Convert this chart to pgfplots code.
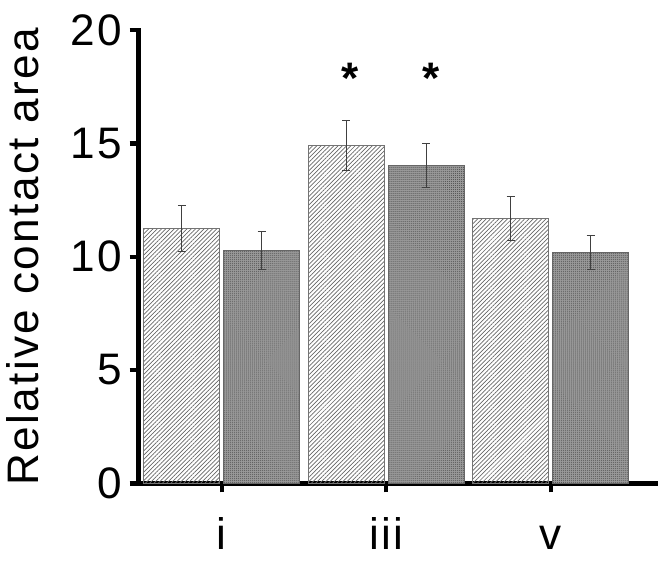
\documentclass[border=0pt]{standalone}
\usepackage{pgfplots}
\pgfplotsset{compat=1.18}
\usepackage{fontspec}
\setmainfont{Liberation Sans}[LetterSpace=5.5]
\usetikzlibrary{patterns,patterns.meta}

% bar centres are offset from each group tick by about a quarter unit
\pgfplotstableread{
x    y      err
1    11.25  1.00
2    14.92  1.10
3    11.70  0.97
}\hatchdata
\pgfplotstableread{
x    y      err
1    10.28  0.85
2    14.02  0.97
3    10.18  0.75
}\dotdata

\begin{document}
\begin{tikzpicture}
\begin{axis}[
  scale only axis,
  width=258pt, height=226pt,
  xmin=0.494, xmax=3.64,
  ymin=0, ymax=20,
  xtick={1,2,3},
  xticklabels={i, iii, v},
  ytick={0,5,10,15,20},
  axis x line*=bottom,
  axis y line*=left,
  axis line style={line width=2.2pt, line cap=rect},
  tick style={line width=2.2pt, black},
  tick align=outside,
  major tick length=4.5pt,
  ticklabel style={font=\fontsize{22}{26}\selectfont},
  /pgf/number format/assume math mode=true,
  ylabel={Relative contact area},
  ylabel style={font=\fontsize{22}{26}\selectfont, yshift=9pt},
  xticklabel style={yshift=-13pt, text height=12pt, text depth=0pt},
  ybar, bar width=0.46,
  clip=false,
  error bars/y dir=both,
  error bars/y explicit,
  error bars/error mark options={rotate=90, mark size=2pt, line width=0.5pt, draw=black!75},
  error bars/error bar style={line width=0.5pt, draw=black!75},
]
\addplot[bar shift=-0.243, draw=black!55, line width=0.5pt,
  pattern={Lines[angle=45, distance=1.5pt, line width=0.35pt]}, pattern color=black!60]
  table[x=x, y=y, y error=err] {\hatchdata};
\addplot[bar shift=0.243, draw=black!60, line width=0.5pt, fill=black!40,
  postaction={pattern={Dots[distance=1pt, radius=0.25pt]}, pattern color=black!70}]
  table[x=x, y=y, y error=err] {\dotdata};
\node[font=\bfseries\fontsize{22}{26}\selectfont] at (axis cs:1.78,17.85) {*};
\node[font=\bfseries\fontsize{22}{26}\selectfont] at (axis cs:2.275,17.85) {*};
% empty margins round the axis, as in the original
\path (rel axis cs:1,0) ++(4pt,-38.5pt);
\path (rel axis cs:0,1) ++(0,15pt);
\end{axis}
\end{tikzpicture}
\end{document}
